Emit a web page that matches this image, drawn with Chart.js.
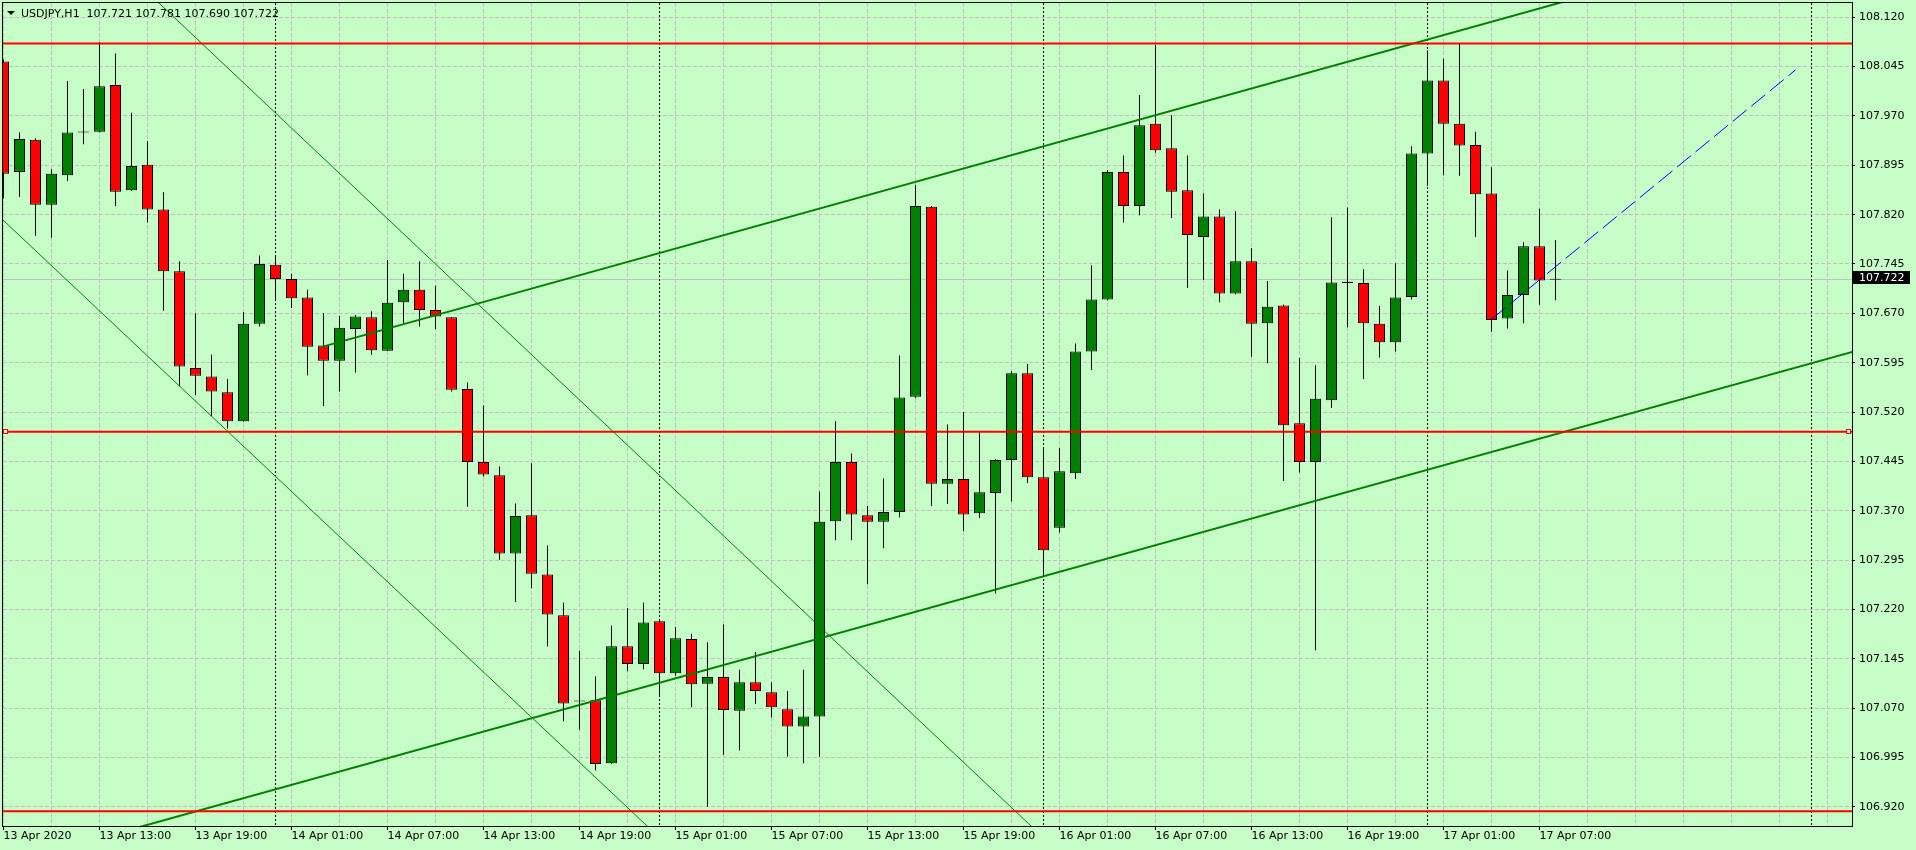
<!DOCTYPE html>
<html>
<head>
<meta charset="utf-8">
<title>USDJPY,H1</title>
<script src="https://cdn.jsdelivr.net/npm/chart.js@4.4.0/dist/chart.umd.min.js"></script>
<style>
  html, body { margin: 0; padding: 0; background: #c6fcc6; }
  #wrap { width: 1916px; height: 850px; }
</style>
</head>
<body>
<div id="wrap"><canvas id="usdjpy" width="1916" height="850"></canvas></div>
<script>
// USDJPY H1 bars, 13 Apr 2020 07:00 .. 17 Apr 2020 08:00, one value per hour
const openP = [
  108.053, 107.885, 107.934, 107.835, 107.880, 107.945, 107.946, 108.017, 107.857, 107.896,
  107.828, 107.734, 107.587, 107.574, 107.550, 107.506, 107.654, 107.744, 107.722, 107.694,
  107.621, 107.598, 107.646, 107.664, 107.613, 107.687, 107.706, 107.675, 107.664, 107.555,
  107.444, 107.424, 107.305, 107.363, 107.273, 107.211, 107.080, 107.082, 106.986, 107.164,
  107.137, 107.202, 107.123, 107.175, 107.107, 107.117, 107.066, 107.109, 107.094, 107.068,
  107.042, 107.057, 107.354, 107.444, 107.363, 107.353, 107.368, 107.543, 107.832, 107.411,
  107.418, 107.366, 107.397, 107.447, 107.579, 107.421, 107.344, 107.427, 107.612, 107.691,
  107.885, 107.833, 107.958, 107.921, 107.857, 107.786, 107.817, 107.700, 107.749, 107.655,
  107.682, 107.503, 107.444, 107.538, 107.718, 107.716, 107.654, 107.626, 107.695, 107.913,
  108.024, 107.958, 107.926, 107.852, 107.662, 107.698, 107.772, 107.721
];
const highP = [
  108.056, 107.945, 107.936, 107.889, 108.023, 108.011, 108.082, 108.065, 107.975, 107.932,
  107.854, 107.749, 107.670, 107.607, 107.570, 107.672, 107.758, 107.758, 107.730, 107.706,
  107.670, 107.666, 107.668, 107.673, 107.751, 107.730, 107.749, 107.712, 107.664, 107.565,
  107.530, 107.437, 107.381, 107.442, 107.317, 107.230, 107.157, 107.118, 107.195, 107.222,
  107.230, 107.203, 107.193, 107.183, 107.170, 107.197, 107.128, 107.155, 107.109, 107.096,
  107.128, 107.399, 107.506, 107.457, 107.377, 107.419, 107.606, 107.865, 107.833, 107.501,
  107.520, 107.489, 107.448, 107.582, 107.593, 107.466, 107.465, 107.624, 107.743, 107.888,
  107.910, 108.002, 108.078, 107.971, 107.910, 107.852, 107.828, 107.825, 107.769, 107.719,
  107.683, 107.602, 107.591, 107.816, 107.831, 107.737, 107.681, 107.746, 107.924, 108.070,
  108.057, 108.081, 107.946, 107.892, 107.735, 107.778, 107.829, 107.781
];
const lowP = [
  107.845, 107.847, 107.788, 107.785, 107.871, 107.927, 107.945, 107.833, 107.856, 107.808,
  107.674, 107.559, 107.546, 107.514, 107.495, 107.505, 107.650, 107.691, 107.678, 107.576,
  107.529, 107.551, 107.580, 107.607, 107.613, 107.655, 107.650, 107.646, 107.551, 107.376,
  107.422, 107.295, 107.231, 107.252, 107.164, 107.050, 107.037, 106.975, 106.985, 107.126,
  107.129, 107.088, 107.119, 107.071, 106.920, 106.999, 107.006, 107.076, 107.056, 106.996,
  106.986, 106.996, 107.325, 107.325, 107.258, 107.313, 107.360, 107.541, 107.377, 107.380,
  107.339, 107.359, 107.244, 107.384, 107.412, 107.270, 107.337, 107.418, 107.584, 107.690,
  107.808, 107.819, 107.914, 107.815, 107.709, 107.721, 107.687, 107.699, 107.604, 107.594,
  107.415, 107.428, 107.158, 107.526, 107.649, 107.570, 107.603, 107.612, 107.691, 107.864,
  107.880, 107.879, 107.786, 107.642, 107.647, 107.655, 107.683, 107.690
];
const closeP = [
  107.882, 107.935, 107.835, 107.882, 107.945, 107.945, 108.015, 107.855, 107.894, 107.828,
  107.734, 107.589, 107.575, 107.551, 107.506, 107.654, 107.745, 107.722, 107.693, 107.619,
  107.598, 107.648, 107.665, 107.614, 107.686, 107.706, 107.675, 107.665, 107.554, 107.444,
  107.425, 107.305, 107.362, 107.274, 107.212, 107.077, 107.080, 106.985, 107.164, 107.137,
  107.200, 107.123, 107.176, 107.106, 107.117, 107.067, 107.109, 107.096, 107.071, 107.042,
  107.057, 107.353, 107.444, 107.364, 107.353, 107.368, 107.542, 107.833, 107.411, 107.418,
  107.364, 107.398, 107.447, 107.579, 107.421, 107.310, 107.430, 107.612, 107.691, 107.885,
  107.833, 107.956, 107.918, 107.855, 107.789, 107.817, 107.700, 107.749, 107.654, 107.680,
  107.500, 107.444, 107.540, 107.717, 107.716, 107.655, 107.626, 107.694, 107.913, 108.024,
  107.958, 107.925, 107.851, 107.660, 107.698, 107.772, 107.720, 107.722
];

// time labels, one every 6 bars
const timeLabels = [
  '13 Apr 2020', '13 Apr 13:00', '13 Apr 19:00', '14 Apr 01:00', '14 Apr 07:00', '14 Apr 13:00',
  '14 Apr 19:00', '15 Apr 01:00', '15 Apr 07:00', '15 Apr 13:00', '15 Apr 19:00', '16 Apr 01:00',
  '16 Apr 07:00', '16 Apr 13:00', '16 Apr 19:00', '17 Apr 01:00', '17 Apr 07:00'
];
const priceTicks = [
  108.120, 108.045, 107.970, 107.895, 107.820, 107.745, 107.670, 107.595, 107.520,
  107.445, 107.370, 107.295, 107.220, 107.145, 107.070, 106.995, 106.920
];

// drawn objects (bar index, price)
const levels = [108.080, 107.490, 106.913];
const selectedLevel = 107.490;
const daySeparators = [17, 41, 65, 89, 113];
const channelUpper = [{x: 19.9, y: 107.619}, {x: 98, y: 108.147}];
const channelLower = [{x: -1, y: 106.825}, {x: 117, y: 107.621}];
const slopeA = [{x: 5, y: 108.250}, {x: 70, y: 106.758}];
const slopeB = [{x: -1, y: 107.834}, {x: 50, y: 106.667}];
const projection = [{x: 93, y: 107.661}, {x: 112, y: 108.040}];

const symbolTitle = 'USDJPY,H1';

const GREEN = '#008000';
const RED = '#ff0000';
const GRID = '#c0c0c0';

Chart.defaults.font.family = "'DejaVu Sans', sans-serif";
Chart.defaults.font.size = 11;
Chart.defaults.color = '#000';

const bodyData = openP.map((o, i) => ({x: i, y: [o, closeP[i]]}));
const wickData = openP.map((o, i) => ({x: i, y: [lowP[i], highP[i]]}));

function lineSet(points, color, width, dash) {
  return {
    type: 'line',
    data: points,
    borderColor: color,
    borderWidth: width,
    borderDash: dash || [],
    pointRadius: 0,
    pointHoverRadius: 0,
    fill: false,
    tension: 0,
    order: 0
  };
}

const levelSets = levels.map(p => lineSet([{x: -1, y: p}, {x: 117, y: p}], RED, 2));

const decor = {
  id: 'decor',
  beforeDatasetsDraw(chart) {
    const {ctx, chartArea: a, scales: {x, y}} = chart;
    ctx.save();
    ctx.beginPath();
    ctx.rect(a.left, a.top, a.right - a.left, a.bottom - a.top);
    ctx.clip();
    // bid line
    const by = Math.floor(y.getPixelForValue(closeP[closeP.length - 1])) + 0.5;
    ctx.strokeStyle = GRID;
    ctx.lineWidth = 1;
    ctx.beginPath();
    ctx.moveTo(a.left, by);
    ctx.lineTo(a.right, by);
    ctx.stroke();
    // period separators
    ctx.strokeStyle = '#000';
    ctx.setLineDash([2, 2]);
    daySeparators.forEach(i => {
      const px = Math.floor(x.getPixelForValue(i)) + 0.5;
      ctx.beginPath();
      ctx.moveTo(px, a.top);
      ctx.lineTo(px, a.bottom);
      ctx.stroke();
    });
    ctx.restore();
  },
  afterDraw(chart) {
    const {ctx, chartArea: a, scales: {y}} = chart;
    const last = closeP.length - 1;
    ctx.save();
    // frame
    ctx.strokeStyle = '#000';
    ctx.lineWidth = 1;
    ctx.strokeRect(a.left - 0.5, a.top - 0.5, a.right - a.left + 1, a.bottom - a.top + 1);

    // markers of the selected level
    const ly = Math.round(y.getPixelForValue(selectedLevel));
    [a.left, a.right - 6].forEach(lx => {
      ctx.fillStyle = RED;
      ctx.fillRect(lx, ly - 3, 5, 5);
      ctx.fillStyle = '#ffffff';
      ctx.fillRect(lx + 1, ly - 2, 3, 3);
    });

    // title
    ctx.fillStyle = '#000';
    ctx.beginPath();
    ctx.moveTo(7, 11);
    ctx.lineTo(15, 11);
    ctx.lineTo(11, 15);
    ctx.closePath();
    ctx.fill();
    ctx.font = "11px 'DejaVu Sans'";
    ctx.textBaseline = 'alphabetic';
    ctx.textAlign = 'left';
    const info = [openP[last], highP[last], lowP[last], closeP[last]].map(v => v.toFixed(3)).join(' ');
    ctx.fillText(symbolTitle + '  ' + info, 21, 17);

    // current price label
    const py = y.getPixelForValue(closeP[last]);
    ctx.fillStyle = '#000';
    ctx.fillRect(a.right + 1, Math.round(py) - 8, 57, 13);
    ctx.fillStyle = '#ffffff';
    ctx.textBaseline = 'middle';
    ctx.fillText(closeP[last].toFixed(3), a.right + 7, Math.round(py) - 1);
    ctx.restore();
  }
};

const isLabelTick = v => v % 6 === 0 && v / 6 < timeLabels.length;

new Chart(document.getElementById('usdjpy'), {
  type: 'bar',
  data: {
    datasets: [
      {
        label: 'wick',
        data: wickData,
        backgroundColor: '#000',
        borderWidth: 0,
        barThickness: 1,
        grouped: false,
        inflateAmount: 0,
        order: 2
      },
      {
        label: 'body',
        data: bodyData,
        backgroundColor: c => {
          const i = c.dataIndex;
          if (closeP[i] > openP[i]) return GREEN;
          if (closeP[i] < openP[i]) return RED;
          return '#000';
        },
        borderColor: '#000',
        borderWidth: 1,
        borderSkipped: false,
        barThickness: 11,
        minBarLength: 1,
        grouped: false,
        inflateAmount: 0,
        order: 1
      },
      ...levelSets,
      lineSet(channelUpper, GREEN, 2),
      lineSet(channelLower, GREEN, 2),
      lineSet(slopeA, GREEN, 1),
      lineSet(slopeB, GREEN, 1),
      lineSet(projection, '#0000ff', 1, [18, 6])
    ]
  },
  options: {
    responsive: false,
    animation: false,
    events: [],
    layout: { padding: { left: 3, top: 3, right: 0, bottom: 0 } },
    plugins: {
      legend: { display: false },
      tooltip: { enabled: false }
    },
    scales: {
      x: {
        type: 'linear',
        min: -0.03125,
        max: 115.53125,
        offset: false,
        afterBuildTicks: s => {
          const t = [];
          for (let v = 0; v <= s.max; v += 3) t.push({value: v});
          s.ticks = t;
        },
        afterFit: s => { s.height = 24; s.paddingLeft = 0; s.paddingRight = 0; },
        ticks: {
          autoSkip: false,
          maxRotation: 0,
          minRotation: 0,
          align: 'start',
          padding: 0,
          color: '#000',
          callback: v => isLabelTick(v) ? timeLabels[v / 6] : ''
        },
        grid: {
          offset: false,
          color: GRID,
          lineWidth: 1,
          tickLength: 4,
          tickColor: c => (c.tick && isLabelTick(c.tick.value)) ? '#000' : 'rgba(0,0,0,0)'
        },
        border: { display: false, dash: [4, 2] }
      },
      y: {
        type: 'linear',
        position: 'right',
        min: 106.89066,
        max: 108.14174,
        afterBuildTicks: s => { s.ticks = priceTicks.map(v => ({value: v})); },
        afterFit: s => { s.width = 64; s.paddingTop = 0; s.paddingBottom = 0; },
        ticks: {
          autoSkip: false,
          padding: 4,
          color: '#000',
          callback: v => v.toFixed(3)
        },
        grid: {
          color: GRID,
          lineWidth: 1,
          tickLength: 3,
          tickColor: '#000'
        },
        border: { display: false, dash: [4, 2] }
      }
    }
  },
  plugins: [decor]
});
</script>
</body>
</html>
